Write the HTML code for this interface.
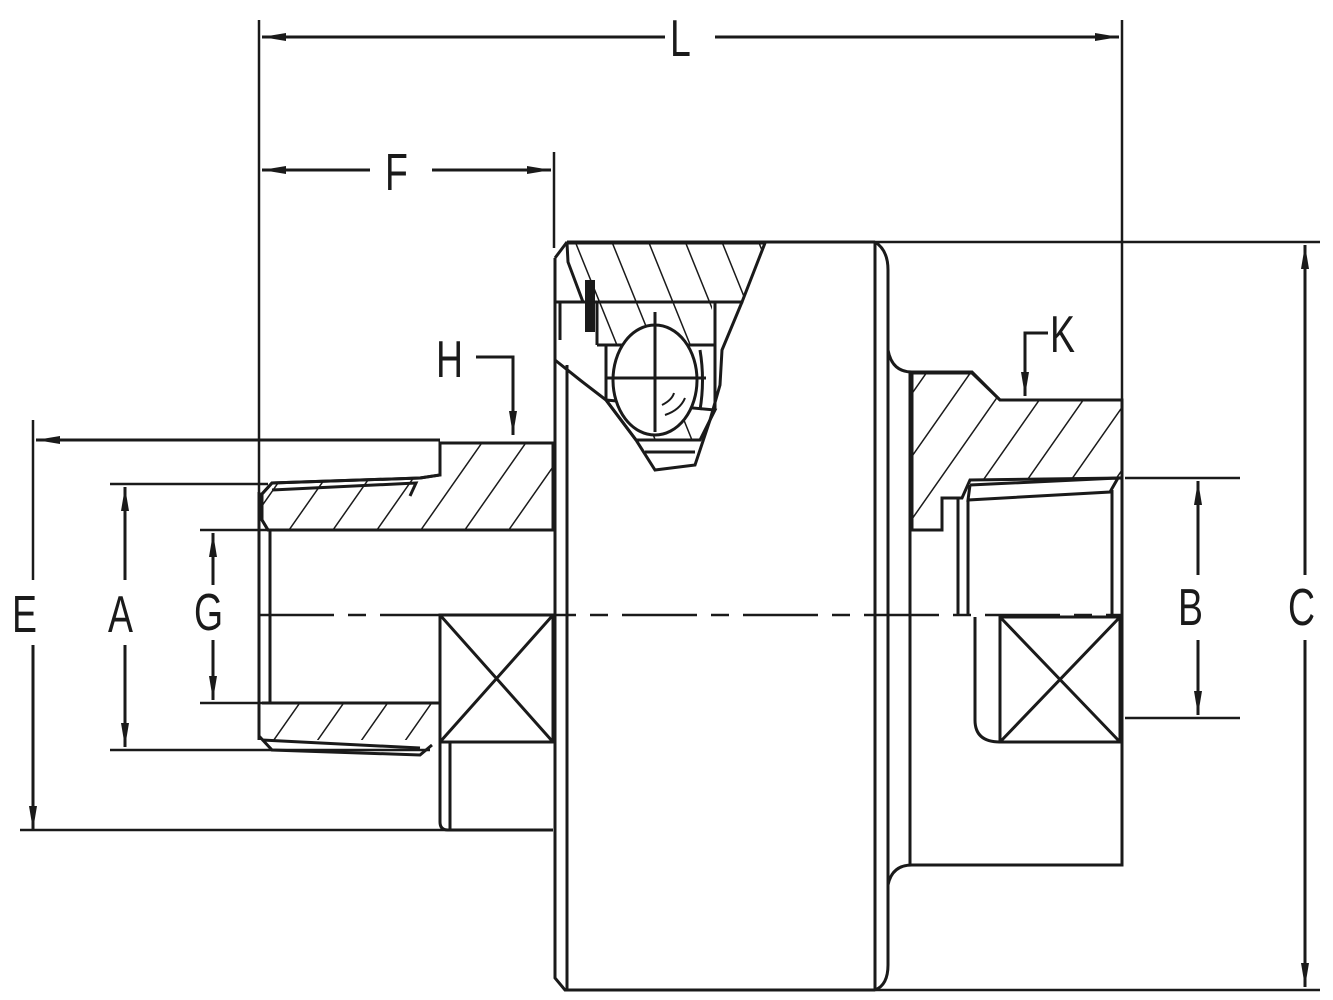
<!DOCTYPE html>
<html><head><meta charset="utf-8"><style>html,body{margin:0;padding:0;background:#fff}svg{display:block}</style></head>
<body>
<svg width="1333" height="1000" viewBox="0 0 1333 1000" xmlns="http://www.w3.org/2000/svg">
<defs>
<pattern id="h" patternUnits="userSpaceOnUse" width="36" height="36" patternTransform="rotate(35)">
<line x1="0" y1="0" x2="0" y2="36" stroke="#1a1a1a" stroke-width="3"/>
</pattern>
<pattern id="h2" patternUnits="userSpaceOnUse" width="34" height="34" patternTransform="rotate(-22)">
<line x1="0" y1="0" x2="0" y2="34" stroke="#1a1a1a" stroke-width="3"/>
</pattern>
<marker id="a" viewBox="0 0 24 10" refX="24" refY="5" markerWidth="24" markerHeight="10" markerUnits="userSpaceOnUse" orient="auto-start-reverse"><path d="M0,1 L24,5 L0,9 Z" fill="#1a1a1a"/></marker>
</defs>
<g fill="none" stroke="#1a1a1a" stroke-width="3" stroke-linejoin="miter">
<line x1="259" y1="20" x2="259" y2="520" stroke-width="2.5"/>
<line x1="1122" y1="20" x2="1122" y2="400" stroke-width="2.5"/>
<line x1="262" y1="37" x2="665" y2="37" marker-start="url(#a)"/>
<line x1="715" y1="37" x2="1119" y2="37" marker-end="url(#a)"/>
<line x1="554" y1="152" x2="554" y2="248" stroke-width="2.5"/>
<line x1="262" y1="170" x2="370" y2="170" marker-start="url(#a)"/>
<line x1="432" y1="170" x2="551" y2="170" marker-end="url(#a)"/>
<line x1="875" y1="242" x2="1320" y2="242" stroke-width="2.5"/>
<line x1="875" y1="990" x2="1320" y2="990" stroke-width="2.5"/>
<line x1="1305" y1="245" x2="1305" y2="575" marker-start="url(#a)"/>
<line x1="1305" y1="640" x2="1305" y2="987" marker-end="url(#a)"/>
<line x1="1125" y1="478" x2="1240" y2="478" stroke-width="2.5"/>
<line x1="1125" y1="718" x2="1240" y2="718" stroke-width="2.5"/>
<line x1="1198" y1="481" x2="1198" y2="575" marker-start="url(#a)"/>
<line x1="1198" y1="640" x2="1198" y2="715" marker-end="url(#a)"/>
<line x1="33" y1="420" x2="33" y2="580" stroke-width="2.5"/>
<line x1="36" y1="440" x2="440" y2="440" marker-start="url(#a)"/>
<line x1="33" y1="645" x2="33" y2="830" marker-end="url(#a)"/>
<line x1="20" y1="830" x2="448" y2="830" stroke-width="2.5"/>
<line x1="110" y1="484" x2="268" y2="484" stroke-width="2.5"/>
<line x1="110" y1="750" x2="430" y2="750" stroke-width="2.5"/>
<line x1="125" y1="487" x2="125" y2="580" marker-start="url(#a)"/>
<line x1="125" y1="645" x2="125" y2="747" marker-end="url(#a)"/>
<line x1="200" y1="530" x2="270" y2="530" stroke-width="2.5"/>
<line x1="200" y1="703" x2="270" y2="703" stroke-width="2.5"/>
<line x1="213" y1="533" x2="213" y2="585" marker-start="url(#a)"/>
<line x1="213" y1="640" x2="213" y2="700" marker-end="url(#a)"/>
<polyline points="476,357 513,357 513,435" marker-end="url(#a)"/>
<polyline points="1048,333 1025,333 1025,396" marker-end="url(#a)"/>

<path d="M440,443 L553,443 L553,530 L268,530 L262,520 L262,494 L272,483 L420,478 L440,475 Z" fill="url(#h)"/>
<path d="M440,443 L553,443 L553,530 L268,530 L262,520 L262,494 L272,483 L420,478 L440,475 Z"/>
<polyline points="272,490 416,483 410,496 L268,503" fill="none"/>
<path d="M272,703 L440,703 L420,740 L262,740 Z" fill="url(#h)" stroke="none"/>
<line x1="262" y1="703" x2="440" y2="703"/>
<polyline points="259,736 272,750 420,755 432,745"/>
<line x1="262" y1="740" x2="420" y2="748"/>
<line x1="259" y1="492" x2="259" y2="740"/>
<line x1="270" y1="530" x2="270" y2="703"/>
<rect x="440" y="615" width="113" height="127"/>
<line x1="440" y1="615" x2="553" y2="742"/><line x1="553" y1="615" x2="440" y2="742"/>
<path d="M440,742 L440,822 Q440,830 448,830 L553,830"/>
<line x1="450" y1="742" x2="450" y2="830"/>

<path d="M567,242 L875,242 M555,258 L555,978 L565,990 L875,990 M555,258 L567,242"/>
<line x1="567" y1="365" x2="567" y2="990"/>
<line x1="875" y1="242" x2="875" y2="990"/>
<path d="M875,242 Q888,250 888,270 L888,965 Q888,985 875,990"/>
<path d="M567,243 L765,243 L742,302 L583,302 L568,262 Z" fill="url(#h2)"/>
<path d="M590,302 L712,302 L712,345 L605,345 Z" fill="url(#h2)" stroke="none"/>
<line x1="555" y1="302" x2="742" y2="302"/>
<line x1="597" y1="302" x2="597" y2="345"/>
<line x1="715" y1="302" x2="715" y2="410"/>
<line x1="597" y1="345" x2="715" y2="345"/>
<line x1="560" y1="302" x2="560" y2="340"/>
<rect x="585" y="280" width="10" height="52" fill="#1a1a1a" stroke="none"/>
<path d="M742,302 L722,350 L720,385 L710,420 L695,465 L655,470 L636,440 L606,400 L580,380 L555,360"/>
<path d="M606,400 L715,410 L700,440 L636,440 Z" fill="url(#h2)"/>
<line x1="606" y1="345" x2="606" y2="400"/>
<line x1="636" y1="440" x2="700" y2="440"/>
<line x1="645" y1="452" x2="695" y2="452"/>
<ellipse cx="655" cy="380" rx="42" ry="55" fill="#fff"/>
<line x1="655" y1="312" x2="655" y2="432"/>
<line x1="606" y1="378" x2="706" y2="378"/>
<path d="M700,350 Q705,380 700,410" />
<path d="M665,415 Q680,410 685,398 M662,405 Q672,400 674,393" stroke-width="2"/>

<path d="M888,350 Q892,372 912,372 L972,372 L1000,400 L1122,400 L1122,865 L912,865 Q892,865 888,885"/>
<line x1="910" y1="372" x2="910" y2="865"/>
<path d="M912,373 L972,373 L1000,400 L1122,400 L1122,478 L970,480 L962,498 L942,498 L942,530 L912,530 Z" fill="url(#h)"/>
<polyline points="962,498 942,498 942,530 912,530"/>
<polyline points="970,485 1118,478 1110,492 968,500 970,485"/>
<line x1="958" y1="498" x2="958" y2="615"/>
<line x1="968" y1="500" x2="968" y2="615"/>
<line x1="1112" y1="490" x2="1112" y2="615"/>
<rect x="1000" y="617" width="120" height="125"/>
<line x1="1000" y1="617" x2="1120" y2="742"/><line x1="1120" y1="617" x2="1000" y2="742"/>
<path d="M975,617 L975,720 Q975,742 1000,742"/>
<line x1="259" y1="615" x2="1122" y2="615" stroke-dasharray="75,14,18,14" stroke-width="2.5"/>
</g>
<g font-family="Liberation Sans, sans-serif" font-size="52" fill="#1a1a1a">
<text transform="translate(670,56) scale(0.72,1)">L</text>
<text transform="translate(385,190) scale(0.72,1)">F</text>
<text transform="translate(436,377) scale(0.72,1)">H</text>
<text transform="translate(1050,352) scale(0.72,1)">K</text>
<text transform="translate(12,632) scale(0.72,1)">E</text>
<text transform="translate(108,632) scale(0.72,1)">A</text>
<text transform="translate(194,630) scale(0.72,1)">G</text>
<text transform="translate(1178,625) scale(0.72,1)">B</text>
<text transform="translate(1288,625) scale(0.72,1)">C</text>
</g>
</svg>
</body></html>
